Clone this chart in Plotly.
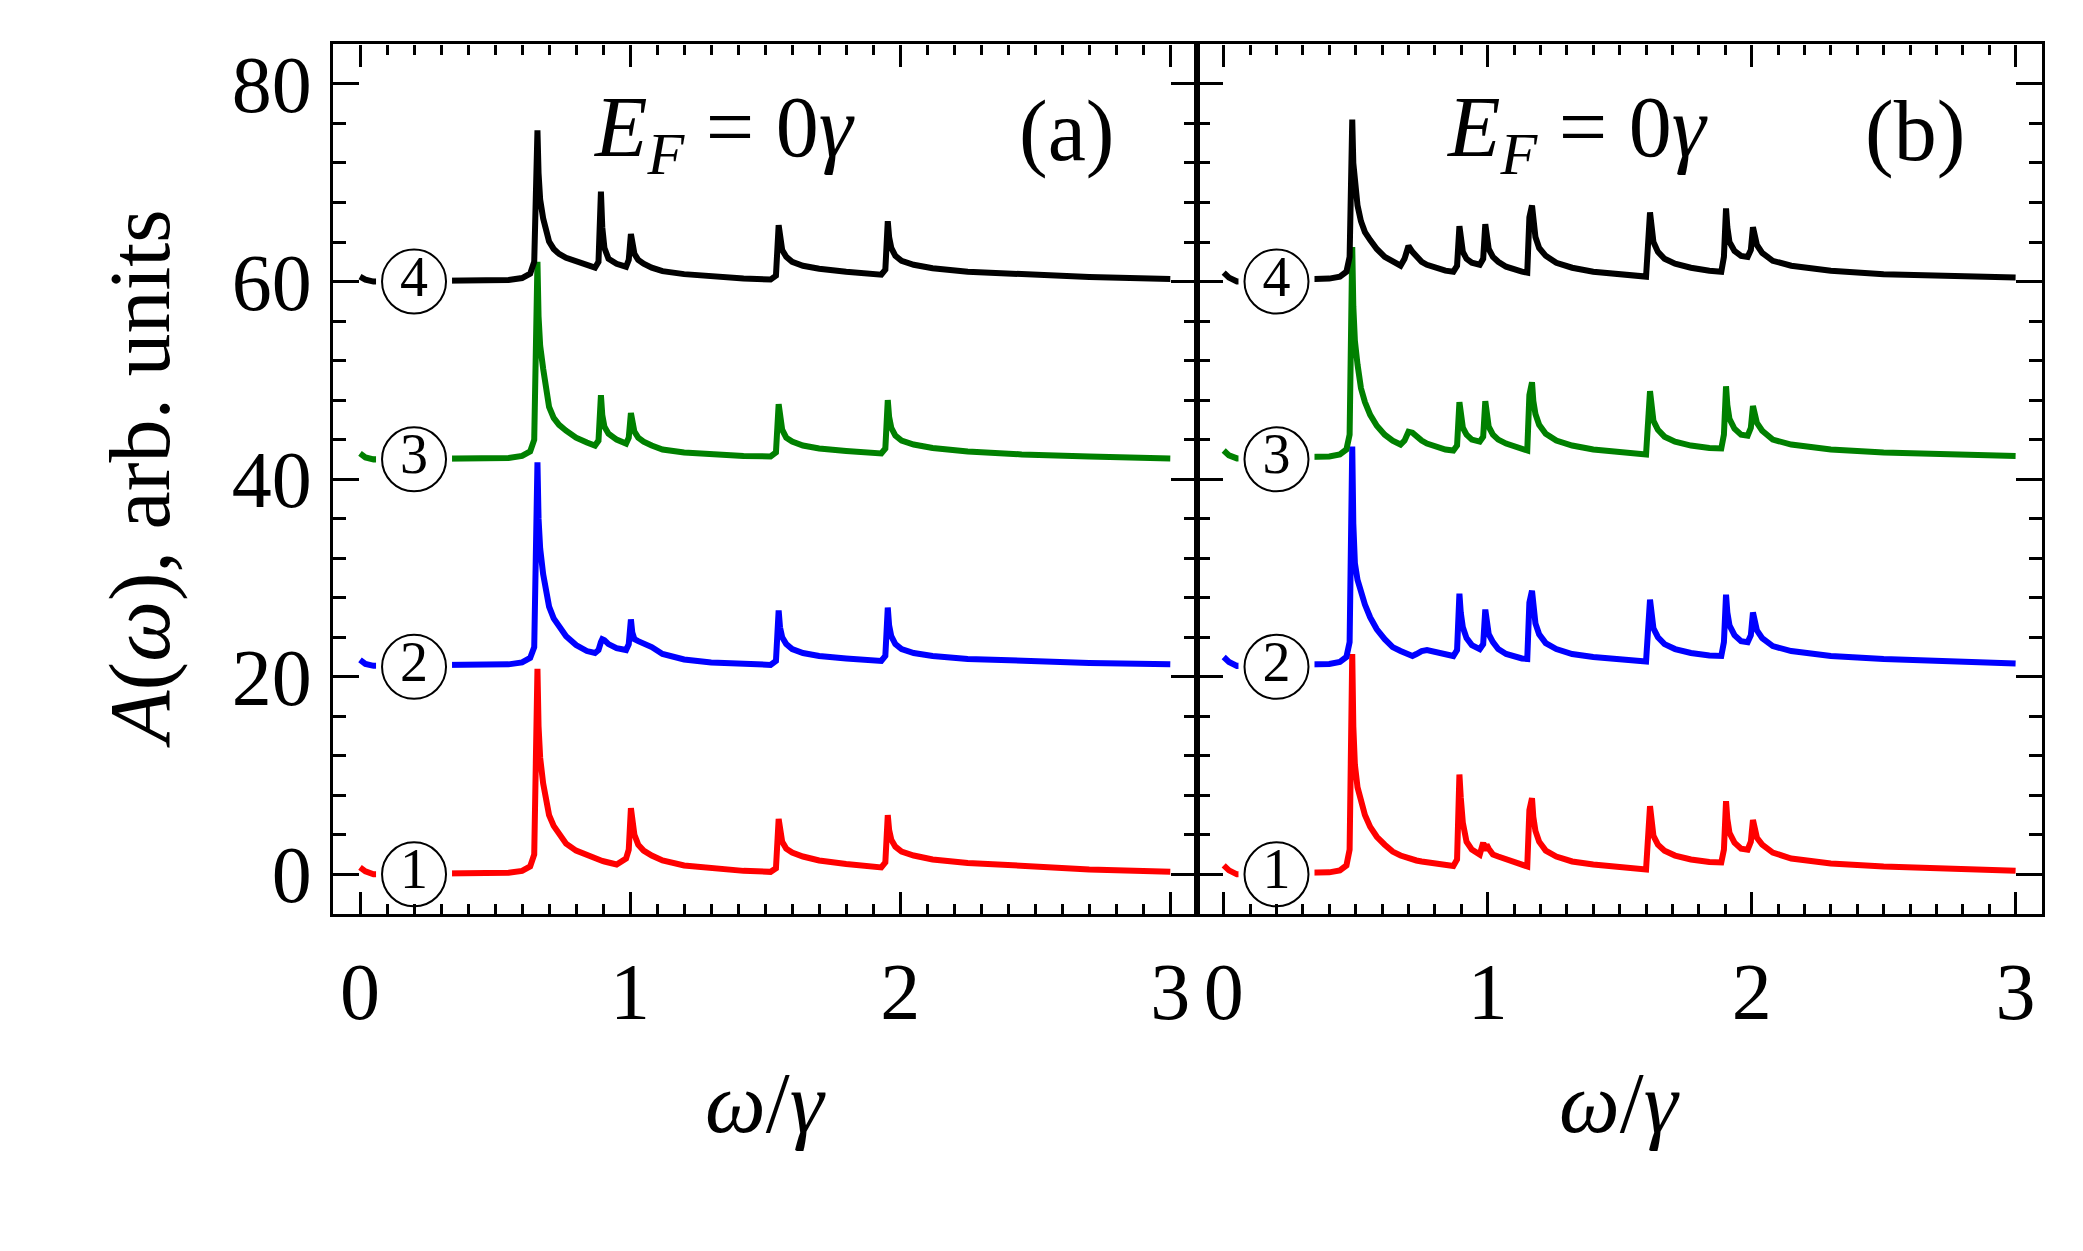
import plotly.graph_objects as go

# ---------------- data ----------------
x_ticks = [0, 1, 2, 3]
y_ticks = [0, 20, 40, 60, 80]
curve_names = ["1", "2", "3", "4"]
label_x = 0.2
label_y = [0, 21, 42, 60]

# panel (a)
x_a = [0.0, 0.02, 0.05, 0.34, 0.45, 0.55, 0.60, 0.63, 0.645, 0.657,
       0.661, 0.667, 0.678, 0.688, 0.70, 0.717, 0.737, 0.763, 0.80, 0.84,
       0.87, 0.883, 0.892, 0.897, 0.905, 0.92, 0.95, 0.985, 0.995, 1.003,
       1.008, 1.016, 1.03, 1.05, 1.08, 1.12, 1.2, 1.3, 1.42, 1.52,
       1.54, 1.55, 1.555, 1.563, 1.578, 1.60, 1.64, 1.7, 1.8, 1.93,
       1.945, 1.954, 1.959, 1.967, 1.982, 2.005, 2.05, 2.12, 2.25, 2.45,
       2.7, 3.0]
a_1 = [0.7, 0.3, 0.0, 0.0, 0.05, 0.15, 0.35, 0.8, 2.0, 20.8,
       15.0, 11.8, 9.2, 7.3, 6.0, 4.9, 4.0, 3.1, 2.4, 1.9,
       1.55, 1.45, 1.4, 1.35, 1.3, 1.15, 1.0, 1.6, 2.5, 6.7,
       5.2, 4.0, 3.0, 2.4, 1.9, 1.4, 0.9, 0.6, 0.35, 0.25,
       0.6, 5.6, 4.2, 3.3, 2.6, 2.2, 1.8, 1.4, 1.05, 0.7,
       1.2, 6.0, 4.5, 3.5, 2.8, 2.3, 1.9, 1.5, 1.15, 0.8,
       0.5, 0.25]
a_2 = [21.7, 21.3, 21.1, 21.1, 21.15, 21.25, 21.45, 21.9, 23.0, 41.7,
       36.0, 33.0, 30.4, 28.5, 27.1, 25.9, 25.0, 24.1, 23.2, 22.6,
       22.4, 22.7, 23.5, 23.8, 23.7, 23.3, 22.9, 22.7, 23.3, 25.8,
       24.5, 23.8, 23.6, 23.4, 23.0, 22.3, 21.75, 21.45, 21.3, 21.2,
       21.6, 26.7, 25.0, 24.0, 23.3, 22.8, 22.4, 22.1, 21.85, 21.6,
       22.1, 27.0, 25.2, 24.1, 23.3, 22.8, 22.4, 22.1, 21.8, 21.6,
       21.4, 21.25]
a_3 = [42.6, 42.2, 42.0, 42.0, 42.05, 42.15, 42.35, 42.8, 44.0, 62.0,
       56.5, 53.5, 51.2, 49.0, 47.3, 46.2, 45.5, 44.9, 44.2, 43.7,
       43.4, 43.9, 48.5, 46.5, 45.3, 44.6, 44.0, 43.6, 44.2, 46.7,
       45.6, 44.8, 44.2, 43.8, 43.4, 43.0, 42.7, 42.5, 42.35, 42.3,
       42.7, 47.6, 46.0, 45.0, 44.2, 43.8, 43.4, 43.1, 42.85, 42.6,
       43.1, 48.0, 46.3, 45.2, 44.4, 43.9, 43.5, 43.15, 42.8, 42.5,
       42.3, 42.1]
a_4 = [60.5, 60.2, 60.0, 60.0, 60.05, 60.15, 60.35, 60.8, 62.0, 75.3,
       71.0, 68.3, 66.4, 65.1, 64.05, 63.3, 62.8, 62.4, 62.0, 61.6,
       61.4, 62.0, 69.1, 65.5, 63.4, 62.3, 61.8, 61.5, 62.2, 64.8,
       63.6, 62.8, 62.2, 61.8, 61.4, 61.05, 60.75, 60.5, 60.3, 60.2,
       60.6, 65.7, 64.2, 63.2, 62.5, 62.0, 61.6, 61.3, 61.0, 60.7,
       61.2, 66.1, 64.5, 63.4, 62.6, 62.1, 61.7, 61.35, 61.0, 60.7,
       60.45, 60.25]

# panel (b)
x_b = [0.0, 0.02, 0.05, 0.34, 0.40, 0.44, 0.465, 0.477, 0.487, 0.491,
       0.497, 0.507, 0.52, 0.535, 0.555, 0.58, 0.61, 0.64, 0.67, 0.685,
       0.70, 0.715, 0.73, 0.75, 0.77, 0.80, 0.84, 0.87, 0.884, 0.893,
       0.898, 0.906, 0.92, 0.94, 0.97, 0.983, 0.991, 0.996, 1.004, 1.02,
       1.04, 1.07, 1.10, 1.13, 1.15, 1.158, 1.168, 1.173, 1.181, 1.195,
       1.22, 1.26, 1.32, 1.40, 1.50, 1.60, 1.615, 1.62, 1.628, 1.645,
       1.67, 1.71, 1.77, 1.84, 1.885, 1.895, 1.903, 1.908, 1.916, 1.935,
       1.96, 1.985, 1.997, 2.005, 2.01, 2.02, 2.04, 2.08, 2.15, 2.3,
       2.5, 2.75, 3.0]
b_1 = [0.9, 0.4, 0.0, 0.1, 0.2, 0.4, 0.9, 2.5, 22.3, 15.0,
       11.1, 8.8, 7.4, 6.0, 4.8, 3.8, 3.0, 2.3, 1.9, 1.75,
       1.6, 1.5, 1.4, 1.3, 1.2, 1.05, 0.95, 0.85, 1.5, 10.1,
       7.8, 5.2, 3.3, 2.5, 2.0, 3.2, 2.4, 3.0, 2.6, 2.0,
       1.8, 1.5, 1.2, 0.95, 0.8, 6.5, 7.7, 5.8, 4.4, 3.3,
       2.4, 1.8, 1.3, 1.0, 0.7, 0.5, 6.9, 5.0, 3.9, 3.0,
       2.4, 1.9, 1.5, 1.25, 1.2, 2.5, 7.4, 5.6, 4.2, 3.2,
       2.6, 2.5, 3.3, 5.5, 4.6, 3.7, 3.0, 2.2, 1.6, 1.1,
       0.8, 0.5, 0.35]
b_2 = [22.0, 21.5, 21.1, 21.2, 21.3, 21.5, 22.0, 23.5, 43.3, 35.5,
       31.5, 29.8, 28.4, 27.3, 26.0, 24.8, 23.8, 23.0, 22.6, 22.4,
       22.2, 22.1, 22.3, 22.6, 22.7, 22.5, 22.2, 22.1, 22.7, 28.4,
       26.5, 25.0, 23.9, 23.2, 22.8, 23.3, 26.8, 25.5, 24.3, 23.5,
       22.8, 22.3, 22.0, 21.85, 21.8, 27.5, 28.7, 26.8, 25.4, 24.3,
       23.4, 22.8, 22.3, 22.0, 21.75, 21.55, 27.8, 26.0, 24.9, 24.0,
       23.3, 22.8, 22.4, 22.15, 22.1, 23.5, 28.3, 26.5, 25.2, 24.2,
       23.6, 23.5, 24.2, 26.5, 25.6, 24.7, 23.9, 23.1, 22.6, 22.1,
       21.8, 21.5, 21.35]
b_3 = [42.9, 42.4, 42.1, 42.2, 42.3, 42.5, 43.0, 44.5, 63.5, 57.5,
       54.0, 51.6, 49.2, 47.8, 46.5, 45.4, 44.5, 43.9, 43.5, 43.9,
       44.8, 44.7, 44.3, 43.9, 43.6, 43.3, 43.0, 42.9, 43.4, 47.8,
       46.3, 45.2, 44.5, 44.0, 43.8, 44.3, 47.9, 46.4, 45.3, 44.5,
       44.0, 43.6, 43.3, 43.0, 42.9, 48.5, 49.8, 47.9, 46.6, 45.5,
       44.6, 43.9, 43.4, 43.0, 42.7, 42.5, 48.9, 47.0, 45.9, 45.0,
       44.3, 43.8, 43.4, 43.15, 43.1, 44.5, 49.4, 47.5, 46.1, 45.1,
       44.5, 44.4, 45.2, 47.4, 46.5, 45.7, 44.9, 44.0, 43.5, 43.0,
       42.7, 42.5, 42.35]
b_4 = [60.9, 60.4, 60.0, 60.2, 60.3, 60.5, 61.0, 62.5, 76.4, 72.0,
       69.5, 67.7, 66.1, 65.0, 64.2, 63.3, 62.5, 62.0, 61.6, 62.3,
       63.6, 63.0, 62.5, 62.0, 61.7, 61.4, 61.1, 61.0, 61.6, 65.6,
       64.0, 63.0, 62.3, 61.9, 61.7, 62.3, 65.8, 64.4, 63.3, 62.5,
       62.0, 61.5, 61.2, 61.0, 60.9, 66.5, 67.7, 65.8, 64.5, 63.4,
       62.6, 61.9, 61.4, 61.0, 60.7, 60.5, 67.0, 65.2, 64.0, 63.0,
       62.3, 61.8, 61.4, 61.1, 61.0, 62.5, 67.4, 65.5, 64.0, 63.1,
       62.6, 62.5, 63.2, 65.5, 64.6, 63.7, 62.9, 62.1, 61.6, 61.1,
       60.75, 60.55, 60.4]

colors = ["#ff0000", "#0000ff", "#008000", "#000000"]

# ---------------- layout geometry (pixels of the 2083x1251 page) ----------------
W, H = 2083, 1251
pa = (333.0, 1197.3)
pb = (1197.3, 2042.0)
ptop, pbot = 41.7, 916.7
FONT = "Liberation Serif"

fig = go.Figure()

panels = [("x", "y", x_a, [a_1, a_2, a_3, a_4]),
          ("x2", "y2", x_b, [b_1, b_2, b_3, b_4])]
for xr, yr, xs, series in panels:
    for ys, c, nm in zip(series, colors, curve_names):
        fig.add_trace(go.Scatter(x=xs, y=ys, mode="lines", name=nm,
                                 line=dict(color=c, width=6),
                                 xaxis=xr, yaxis=yr, showlegend=False, hoverinfo="skip"))
    # white box behind the circled labels
    fig.add_trace(go.Scatter(x=[label_x] * len(label_y), y=label_y, mode="markers",
                             marker=dict(symbol="square", size=76, color="white",
                                         line=dict(width=0)),
                             xaxis=xr, yaxis=yr, showlegend=False, hoverinfo="skip"))
    fig.add_trace(go.Scatter(x=[label_x] * len(label_y), y=label_y, mode="markers+text",
                             text=curve_names, textposition="middle center",
                             textfont=dict(family=FONT, size=56, color="black"),
                             marker=dict(symbol="circle", size=64, color="white",
                                         line=dict(color="black", width=2)),
                             xaxis=xr, yaxis=yr, showlegend=False, hoverinfo="skip"))

common_x = dict(range=[-0.1, 3.1], tickvals=x_ticks, ticks="inside", ticklen=22, tickwidth=3.3,
                tickcolor="black", showline=True, linewidth=3.3, linecolor="black",
                mirror="allticks", showgrid=False, zeroline=False,
                tickfont=dict(family=FONT, size=80, color="black"),
                minor=dict(dtick=0.1, tick0=0, ticks="inside", ticklen=10, tickwidth=3.3,
                           tickcolor="black", showgrid=False),
                ticklabelstandoff=6)
common_y = dict(range=[-4, 84], tickvals=y_ticks, ticks="inside", ticklen=26, tickwidth=3.3,
                tickcolor="black", showline=True, linewidth=3.3, linecolor="black",
                mirror="allticks", showgrid=False, zeroline=False,
                tickfont=dict(family=FONT, size=80, color="black"),
                minor=dict(dtick=4, tick0=0, ticks="inside", ticklen=13, tickwidth=3.3,
                           tickcolor="black", showgrid=False))

ydom = [1 - pbot / H, 1 - ptop / H]
fig.update_layout(
    width=W, height=H, margin=dict(l=0, r=0, t=0, b=0),
    paper_bgcolor="white", plot_bgcolor="white",
    xaxis=dict(domain=[pa[0] / W, pa[1] / W], anchor="y", **common_x),
    yaxis=dict(domain=ydom, anchor="x", ticklabelstandoff=2, **common_y),
    xaxis2=dict(domain=[pb[0] / W, pb[1] / W], anchor="y2", **common_x),
    yaxis2=dict(domain=ydom, anchor="x2", showticklabels=False, **common_y),
)

ann_font = dict(family=FONT, size=86, color="black")
ef_text = "<i>E</i><sub><i>F</i></sub> = 0<i>γ</i>"
centre = dict(showarrow=False, xanchor="center", yanchor="middle")
annotations = [
    dict(x=1.346, y=75.0, xref="x", yref="y", text=ef_text, font=ann_font, **centre),
    dict(x=2.616, y=75.2, xref="x", yref="y", text="(a)", font=ann_font, **centre),
    dict(x=1.34, y=75.0, xref="x2", yref="y2", text=ef_text, font=ann_font, **centre),
    dict(x=2.62, y=75.2, xref="x2", yref="y2", text="(b)", font=ann_font, **centre),
    dict(x=0.5, y=1 - 1107 / H, xref="x domain", yref="paper", text="<i>ω</i>/<i>γ</i>",
         font=ann_font, **centre),
    dict(x=0.5, y=1 - 1107 / H, xref="x2 domain", yref="paper", text="<i>ω</i>/<i>γ</i>",
         font=ann_font, **centre),
    dict(x=140 / W, y=1 - 479 / H, xref="paper", yref="paper",
         text="<i>A</i>(<i>ω</i>), arb. units", textangle=-90,
         font=dict(family=FONT, size=86, color="black"), **centre),
]
fig.update_layout(annotations=annotations)

fig.write_html("out.html")
